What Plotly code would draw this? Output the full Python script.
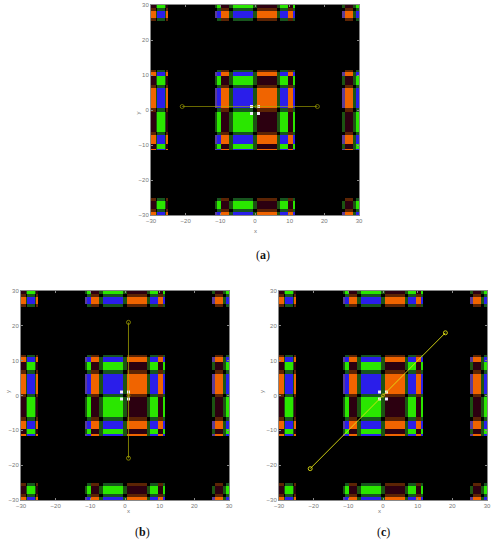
import plotly.graph_objects as go

# band edges, one kind per band
x_edges = [-30, -28.7, -28.2, -26.1, -25.6, -25.1, -11.5, -11, -9.8, -7.5, -6.25, -0.5, 0.5,
           6.25, 7.2, 9.6, 11, 11.5, 25.1, 25.9, 28.3, 29.2, 30]
x_kinds = ["R", "V", "L", "V", "R", "B", "E", "L", "R", "V", "L", "V", "R",
           "V", "L", "R", "L", "B", "E", "R", "V", "L"]
y_edges = [-30, -29.2, -28.3, -26, -25.2, -11.5, -11, -9.6, -7.2, -6.25, -0.5, 0.5,
           6.25, 7.2, 9.6, 11, 11.5, 25.3, 26.2, 28.3, 29.1, 30]
y_kinds = ["U", "H", "D", "H", "B", "U", "D", "U", "H", "D", "H", "U",
           "H", "D", "U", "H", "B", "H", "U", "H", "D"]

black = "#000000"
blue = "#2a1eea"
orange = "#f06400"
green = "#2ae600"
maroon = "#2c0010"
vline = "#1c5412"
hline_left = "#17551e"
hline_right = "#5c2404"
rim = "#5a3c96"
colors = [black, blue, orange, green, maroon, vline, hline_left, hline_right, rim]

cell_index = {
    ("L", "U"): 1, ("R", "U"): 2, ("L", "D"): 3, ("R", "D"): 4,
    ("L", "H"): 6, ("R", "H"): 7,
    ("V", "U"): 5, ("V", "D"): 5, ("V", "H"): 0,
    ("E", "U"): 8, ("E", "D"): 5, ("E", "H"): 0,
}

ticks = [-30, -20, -10, 0, 10, 20, 30]

# scan lines, end circles, centre mark
line_a_x = [-21, 18]
line_a_y = [1, 1]
line_b_x = [1, 1]
line_b_y = [21, -18]
line_c_x = [-21, 18]
line_c_y = [-21, 18]
center_a = ([0.5], [1])
center_b = ([1], [0])
center_c = ([0], [0])
dots_x = [-1, 1, -1, 1]
dots_y = [1, 1, -1, -1]

panel_x_px = [(151, 359), (21, 229), (279, 487)]
panel_y_px = [(5, 215), (291, 500), (291, 500)]
caption_px = [(263, 255, "a"), (133, 541, "b"), (392, 541, "c")]
y_title_px = [133, 3, 262]

WIDTH = 493
HEIGHT = 550

z = []
for y_kind in y_kinds:
    row = []
    for x_kind in x_kinds:
        row.append(cell_index.get((x_kind, y_kind), 0))
    z.append(row)

n = len(colors)
colorscale = []
for i, color in enumerate(colors):
    colorscale.append([i / n, color])
    colorscale.append([(i + 1) / n, color])

fig = go.Figure()
lines = [(line_a_x, line_a_y, center_a, "rgba(170,170,0,0.62)"),
         (line_b_x, line_b_y, center_b, "rgba(170,170,0,0.72)"),
         (line_c_x, line_c_y, center_c, "rgba(225,225,20,0.9)")]

for i, (line_x, line_y, center, line_color) in enumerate(lines):
    suffix = "" if i == 0 else str(i + 1)
    fig.add_trace(go.Heatmap(x=x_edges, y=y_edges, z=z, colorscale=colorscale,
                             zmin=-0.5, zmax=n - 0.5, showscale=False,
                             xaxis="x" + suffix, yaxis="y" + suffix))
    fig.add_trace(go.Scatter(x=dots_x, y=dots_y, mode="markers",
                             marker=dict(color="#f4ecff", size=3, symbol="square"),
                             xaxis="x" + suffix, yaxis="y" + suffix))
    fig.add_trace(go.Scatter(x=line_x, y=line_y, mode="lines+markers",
                             line=dict(color=line_color, width=1),
                             marker=dict(symbol="circle-open", size=4, color=line_color,
                                         line=dict(width=1, color=line_color)),
                             xaxis="x" + suffix, yaxis="y" + suffix))
    fig.add_trace(go.Scatter(x=center[0], y=center[1], mode="markers",
                             marker=dict(symbol="circle-open", size=3, color=line_color,
                                         line=dict(width=1, color=line_color)),
                             xaxis="x" + suffix, yaxis="y" + suffix))

    axis_style = dict(range=[-30, 30], tickvals=ticks, ticks="inside", ticklen=2, tickwidth=1,
                      tickcolor="#888888", linecolor="#888888", linewidth=1, mirror="ticks",
                      showgrid=False, zeroline=False,
                      tickfont=dict(family="Liberation Sans", size=6, color="#777777"))
    x0, x1 = panel_x_px[i]
    y0, y1 = panel_y_px[i]
    fig.layout["xaxis" + suffix] = dict(axis_style, anchor="y" + suffix,
                                        domain=[x0 / WIDTH, x1 / WIDTH])
    fig.layout["yaxis" + suffix] = dict(axis_style, anchor="x" + suffix,
                                        domain=[1 - y1 / HEIGHT, 1 - y0 / HEIGHT])

    fig.add_annotation(x=(x0 + x1) / 2 / WIDTH, y=1 - (y1 + 16) / HEIGHT, xref="paper", yref="paper",
                       text="x", showarrow=False, font=dict(family="Liberation Sans", size=6, color="#777777"))
    fig.add_annotation(x=y_title_px[i] / WIDTH, y=1 - ((y0 + y1) / 2) / HEIGHT, xref="paper", yref="paper",
                       text="y", textangle=-90, showarrow=False,
                       font=dict(family="Liberation Sans", size=6, color="#777777"))
    cap_x, cap_y, cap = caption_px[i]
    fig.add_annotation(x=cap_x / WIDTH, y=1 - cap_y / HEIGHT, xref="paper", yref="paper",
                       text="(<b>" + cap + "</b>)", showarrow=False,
                       font=dict(family="Liberation Serif", size=12, color="#111111"))

fig.update_layout(width=WIDTH, height=HEIGHT, margin=dict(l=0, r=0, t=0, b=0, autoexpand=False),
                  paper_bgcolor="white", plot_bgcolor="black", showlegend=False)

fig.write_html("out.html", config={"displayModeBar": False},
               post_script="document.body.style.margin='0';")
